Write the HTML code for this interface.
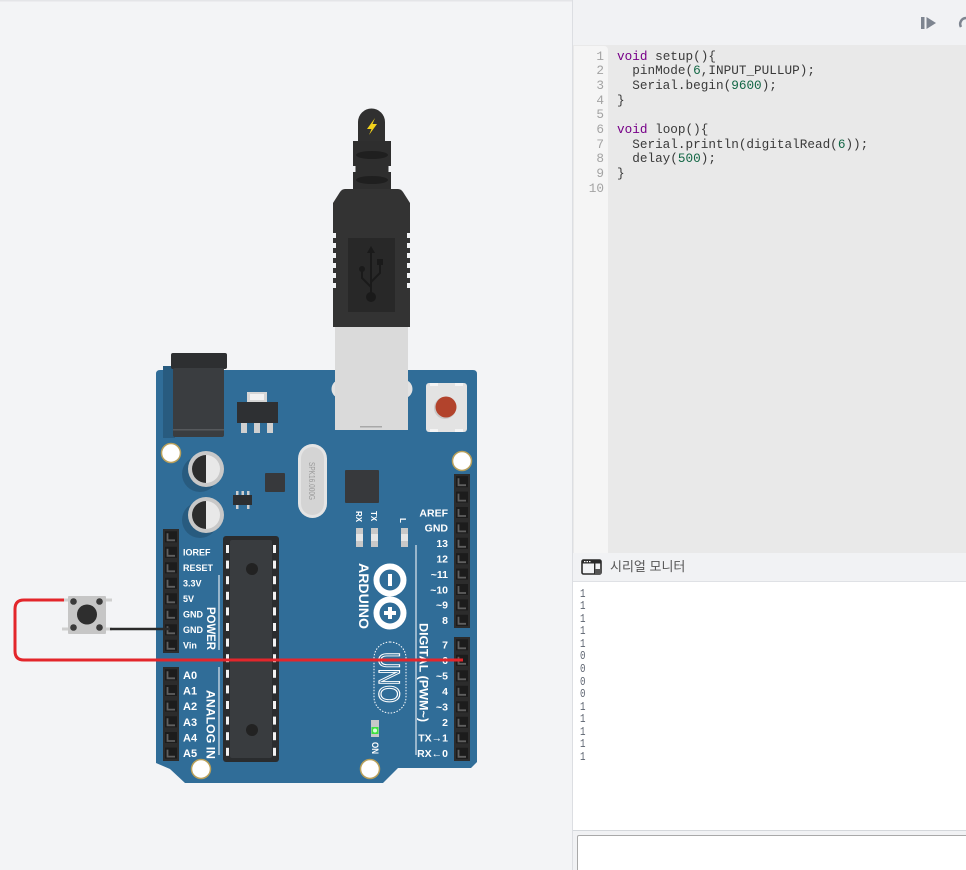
<!DOCTYPE html>
<html><head><meta charset="utf-8"><style>
*{margin:0;padding:0;box-sizing:border-box}
html,body{width:966px;height:870px;overflow:hidden;background:#f3f4f6;font-family:"Liberation Sans",sans-serif}
#left{position:absolute;left:0;top:0}
#rp{position:absolute;left:572px;top:0;width:394px;height:870px;border-left:1px solid #dcdee2;background:#f1f2f4;overflow:hidden}
.code{position:absolute;left:0;top:45px;width:393px;height:508px;background:#e9e9e9}
.gut{position:absolute;left:1px;top:1px;width:34px;height:507px;background:#f5f5f5;border-top-right-radius:4px}
.ln{position:absolute;left:0;top:4.7px;width:31px;text-align:right;font:12.7px/14.67px "Liberation Mono",monospace;color:#a3a3a3}
.src{position:absolute;left:44px;top:4.7px;font:12.7px/14.67px "Liberation Mono",monospace;color:#3a3a3a;white-space:pre}
.k{color:#770088}.n{color:#116644}
.sh{position:absolute;left:0;top:553px;width:393px;height:29px;background:#f1f2f4;border-bottom:1px solid #dfe1e5}
.sh span{position:absolute;left:37px;top:3px;font:13px "Liberation Sans","Noto Sans CJK KR",sans-serif;color:#555}
.out{position:absolute;left:0;top:582px;width:393px;height:248px;background:#fff}
.out div{position:absolute;left:7px;top:6.7px;font:11.5px/12.54px "Liberation Mono",monospace;color:#5d6470;white-space:pre;transform:scaleX(0.8);transform-origin:0 0}
.bot{position:absolute;left:0;top:830px;width:393px;height:40px;border-top:1px solid #d5d8dc;background:#f1f2f4}
.inp{position:absolute;left:4px;top:4px;width:400px;height:40px;border:1px solid #a9a9a9;border-radius:2px;background:#fff}
</style></head><body>
<svg id="left" width="572" height="870" viewBox="0 0 572 870" xmlns="http://www.w3.org/2000/svg">
<defs>
<g id="pin"><rect x="-6" y="-5.5" width="12" height="11" fill="#1c1c1c"/><path d="M-3.5,-3.5 V3.5 H4" stroke="#5f5f5f" stroke-width="1.8" fill="none"/></g>
</defs>
<rect x="0" y="0" width="572" height="1.5" fill="#e4e5e8"/>
<!-- board -->
<path d="M156,374 Q156,370 160,370 L473,370 Q477,370 477,374 L477,762 L471,768 L398,768 L383,783 L185,783 L170,769 L156,763 Z" fill="#306d98"/>
<!-- jack -->
<rect x="163" y="366" width="12" height="72" fill="#285b7f"/>
<rect x="171" y="353" width="56" height="16" rx="2" fill="#2d2f31"/>
<rect x="173" y="368" width="51" height="69" rx="2" fill="#3a3d40"/>
<rect x="173" y="429" width="51" height="1.5" fill="#56595c"/>
<!-- regulator -->
<rect x="247" y="392" width="20" height="11" fill="#d6d6d6"/>
<rect x="250" y="394" width="14" height="6" fill="#f2f2f2"/>
<rect x="237" y="402" width="41" height="21" fill="#2e3033"/>
<rect x="241" y="423" width="6" height="10" fill="#d0d0d0"/>
<rect x="254" y="423" width="6" height="10" fill="#d0d0d0"/>
<rect x="267" y="423" width="6" height="10" fill="#d0d0d0"/>
<!-- USB metal -->
<circle cx="341" cy="389" r="9.5" fill="#e2e2e2"/>
<circle cx="403" cy="389" r="9.5" fill="#e2e2e2"/>
<rect x="335" y="325" width="73" height="105" fill="#dadada"/>
<rect x="360" y="426" width="22" height="1.5" fill="#a8a8a8"/>
<!-- cable -->
<path d="M358,143 V122 A13.5,13.5 0 0 1 385,122 V143 Z" fill="#303030"/>
<polygon points="375,118 367,129 371.5,129 369,135 377,124 372.5,124" fill="#f2d21b"/>
<rect x="353" y="141" width="38" height="50" fill="#2e2e2e"/>
<rect x="353" y="166" width="2.5" height="6" fill="#f3f4f6"/>
<rect x="388.5" y="166" width="2.5" height="6" fill="#f3f4f6"/>
<ellipse cx="372" cy="155" rx="16" ry="4" fill="#1f1f1f"/>
<ellipse cx="372" cy="180" rx="16" ry="4" fill="#1f1f1f"/>
<path d="M345,189 L398,189 Q401,189 403,192 L410,203 L410,327 L333,327 L333,203 L340,192 Q342,189 345,189 Z" fill="#333333"/>
<g fill="#f3f4f6">
<rect x="333" y="233" width="3" height="5"/><rect x="333" y="243" width="3" height="5"/><rect x="333" y="253" width="3" height="5"/><rect x="333" y="263" width="3" height="5"/><rect x="333" y="273" width="3" height="5"/><rect x="333" y="283" width="3" height="5"/>
<rect x="407" y="233" width="3" height="5"/><rect x="407" y="243" width="3" height="5"/><rect x="407" y="253" width="3" height="5"/><rect x="407" y="263" width="3" height="5"/><rect x="407" y="273" width="3" height="5"/><rect x="407" y="283" width="3" height="5"/>
</g>
<rect x="348" y="238" width="47" height="74" fill="#282828"/>
<g stroke="#1a1a1a" stroke-width="2" fill="none">
<path d="M371,252 V297"/><path d="M371,287 L362,278 V271"/><path d="M371,282 L380,273 V265"/>
</g>
<g fill="#1a1a1a"><polygon points="371,246 367,253 375,253"/><circle cx="371" cy="297" r="5"/><circle cx="362" cy="269" r="3"/><rect x="377" y="259" width="6" height="6"/></g>
<!-- reset -->
<rect x="426" y="383" width="41" height="49" rx="3" fill="#e3e3e3"/>
<rect x="430" y="383" width="8" height="3" fill="#f4f4f4"/><rect x="455" y="383" width="8" height="3" fill="#f4f4f4"/>
<rect x="430" y="429" width="8" height="3" fill="#f4f4f4"/><rect x="455" y="429" width="8" height="3" fill="#f4f4f4"/>
<circle cx="445" cy="408" r="11" fill="#c9c9c9"/>
<circle cx="446" cy="407" r="10.5" fill="#b2432c"/>
<!-- mount holes -->
<g fill="#fff" stroke="#b9a05a" stroke-width="1.5">
<circle cx="171" cy="453" r="9.5"/><circle cx="462" cy="461" r="9.5"/><circle cx="201" cy="769" r="9.5"/><circle cx="370" cy="769" r="9.5"/>
</g>
<!-- capacitors -->
<circle cx="200" cy="474" r="18" fill="#285b7f"/>
<circle cx="200" cy="520" r="18" fill="#285b7f"/>
<circle cx="206" cy="469" r="18" fill="#c8c8c8"/><circle cx="206" cy="469" r="14" fill="#e8e8e8"/><path d="M206,455 A14,14 0 0 0 206,483 Z" fill="#2c2c2c"/>
<circle cx="206" cy="515" r="18" fill="#c8c8c8"/><circle cx="206" cy="515" r="14" fill="#e8e8e8"/><path d="M206,501 A14,14 0 0 0 206,529 Z" fill="#2c2c2c"/>
<!-- small chips -->
<rect x="265" y="473" width="20" height="19" rx="1" fill="#37393c"/>
<rect x="345" y="470" width="34" height="33" rx="1" fill="#37393c"/>
<rect x="233" y="495" width="19" height="10" fill="#2d2f31"/>
<g fill="#cfcfcf"><rect x="236" y="491" width="2.5" height="4"/><rect x="241.5" y="491" width="2.5" height="4"/><rect x="247" y="491" width="2.5" height="4"/><rect x="236" y="505" width="2.5" height="4"/><rect x="247" y="505" width="2.5" height="4"/></g>
<!-- crystal -->
<rect x="298" y="444" width="29" height="74" rx="14.5" fill="#e4e4e4"/>
<rect x="301" y="447" width="23" height="68" rx="11.5" fill="#d4d4d4"/>
<text transform="translate(312,462) rotate(90)" x="0" y="3" font-size="8" fill="#9a9a9a" textLength="38" lengthAdjust="spacingAndGlyphs">SPK16.000G</text>
<!-- LEDs -->
<rect x="356" y="528" width="7" height="19" fill="#c8c8c8"/><rect x="356" y="534" width="7" height="7" fill="#e6e6e6"/>
<rect x="371" y="528" width="7" height="19" fill="#c8c8c8"/><rect x="371" y="534" width="7" height="7" fill="#e6e6e6"/>
<rect x="401" y="528" width="7" height="19" fill="#c8c8c8"/><rect x="401" y="534" width="7" height="7" fill="#e6e6e6"/>
<g fill="#fff" font-weight="bold" font-size="8">
<text transform="translate(359,511) rotate(90)" x="0" y="3">RX</text>
<text transform="translate(374,511) rotate(90)" x="0" y="3">TX</text>
<text transform="translate(403,518) rotate(90)" x="0" y="3">L</text>
</g>
<rect x="371" y="720" width="8" height="17" fill="#c8c8c8"/>
<rect x="371.5" y="727" width="7" height="7" fill="#3fe03f"/><circle cx="375" cy="730.5" r="2" fill="#d9ffd9"/>
<text transform="translate(375,742) rotate(90)" x="0" y="3.2" font-size="9" font-weight="bold" fill="#fff" textLength="12" lengthAdjust="spacingAndGlyphs">ON</text>
<!-- main chip -->
<rect x="223" y="536" width="56" height="226" rx="3" fill="#2a2c2e"/>
<rect x="230" y="540" width="42" height="218" rx="2" fill="#393c3f"/>
<g fill="#f2f2f2">
<rect x="226" y="545" width="3" height="8"/><rect x="226" y="560.6" width="3" height="8"/><rect x="226" y="576.2" width="3" height="8"/><rect x="226" y="591.8" width="3" height="8"/><rect x="226" y="607.4" width="3" height="8"/><rect x="226" y="623" width="3" height="8"/><rect x="226" y="638.6" width="3" height="8"/><rect x="226" y="654.2" width="3" height="8"/><rect x="226" y="669.8" width="3" height="8"/><rect x="226" y="685.4" width="3" height="8"/><rect x="226" y="701" width="3" height="8"/><rect x="226" y="716.6" width="3" height="8"/><rect x="226" y="732.2" width="3" height="8"/><rect x="226" y="747.8" width="3" height="8"/>
<rect x="273" y="545" width="3" height="8"/><rect x="273" y="560.6" width="3" height="8"/><rect x="273" y="576.2" width="3" height="8"/><rect x="273" y="591.8" width="3" height="8"/><rect x="273" y="607.4" width="3" height="8"/><rect x="273" y="623" width="3" height="8"/><rect x="273" y="638.6" width="3" height="8"/><rect x="273" y="654.2" width="3" height="8"/><rect x="273" y="669.8" width="3" height="8"/><rect x="273" y="685.4" width="3" height="8"/><rect x="273" y="701" width="3" height="8"/><rect x="273" y="716.6" width="3" height="8"/><rect x="273" y="732.2" width="3" height="8"/><rect x="273" y="747.8" width="3" height="8"/>
</g>
<circle cx="252" cy="569" r="6" fill="#222"/><circle cx="252" cy="730" r="6" fill="#222"/>
<!-- logo -->
<circle cx="390" cy="580" r="13.5" fill="none" stroke="#fff" stroke-width="6"/>
<circle cx="390" cy="613" r="13.5" fill="none" stroke="#fff" stroke-width="6"/>
<rect x="388" y="574" width="4" height="12" fill="#fff"/>
<rect x="388" y="607" width="4" height="12" fill="#fff"/><rect x="384" y="611" width="12" height="4" fill="#fff"/>
<text transform="translate(364,563) rotate(90)" x="0" y="5" font-size="14" font-weight="bold" fill="#fff" textLength="66" lengthAdjust="spacingAndGlyphs">ARDUINO</text>
<rect x="374" y="642" width="32" height="71" rx="16" fill="none" stroke="#fff" stroke-width="1" stroke-dasharray="1.5,1.5"/>
<text transform="translate(390,652) rotate(90)" x="0" y="11" font-size="30" fill="none" stroke="#fff" stroke-width="1.2" textLength="51" lengthAdjust="spacingAndGlyphs">UNO</text>
<!-- headers -->
<rect x="163" y="529" width="16" height="124" fill="#2c2c2c"/>
<rect x="163" y="667" width="16" height="94" fill="#2c2c2c"/>
<rect x="454" y="474" width="16" height="154" fill="#2c2c2c"/>
<rect x="454" y="637" width="16" height="124" fill="#2c2c2c"/>
<use href="#pin" x="171" y="536.8"/><use href="#pin" x="171" y="552.3"/><use href="#pin" x="171" y="567.8"/><use href="#pin" x="171" y="583.3"/><use href="#pin" x="171" y="598.8"/><use href="#pin" x="171" y="614.3"/><use href="#pin" x="171" y="629.8"/><use href="#pin" x="171" y="645.3"/>
<use href="#pin" x="171" y="674.8"/><use href="#pin" x="171" y="690.5"/><use href="#pin" x="171" y="706.1"/><use href="#pin" x="171" y="721.8"/><use href="#pin" x="171" y="737.5"/><use href="#pin" x="171" y="753.1"/>
<use href="#pin" x="462" y="481.7"/><use href="#pin" x="462" y="497.1"/><use href="#pin" x="462" y="512.5"/><use href="#pin" x="462" y="527.9"/><use href="#pin" x="462" y="543.3"/><use href="#pin" x="462" y="558.7"/><use href="#pin" x="462" y="574.1"/><use href="#pin" x="462" y="589.5"/><use href="#pin" x="462" y="604.9"/><use href="#pin" x="462" y="620.3"/>
<use href="#pin" x="462" y="644.8"/><use href="#pin" x="462" y="660.3"/><use href="#pin" x="462" y="675.8"/><use href="#pin" x="462" y="691.3"/><use href="#pin" x="462" y="706.8"/><use href="#pin" x="462" y="722.3"/><use href="#pin" x="462" y="737.8"/><use href="#pin" x="462" y="753.3"/>
<!-- left labels -->
<g fill="#fff" font-size="9" font-weight="bold">
<text x="183" y="555.6">IOREF</text><text x="183" y="571.1">RESET</text><text x="183" y="586.6">3.3V</text><text x="183" y="602.1">5V</text><text x="183" y="617.6">GND</text><text x="183" y="633.1">GND</text><text x="183" y="648.6">Vin</text>
</g>
<g fill="#fff" font-size="11" font-weight="bold">
<text x="183" y="678.8">A0</text><text x="183" y="694.5">A1</text><text x="183" y="710.1">A2</text><text x="183" y="725.8">A3</text><text x="183" y="741.5">A4</text><text x="183" y="757.1">A5</text>
</g>
<rect x="218.5" y="575" width="1" height="75" fill="#fff"/>
<rect x="218.5" y="667" width="1" height="88" fill="#fff"/>
<text transform="translate(211,607) rotate(90)" x="0" y="4.2" font-size="11.5" font-weight="bold" fill="#fff" textLength="43" lengthAdjust="spacingAndGlyphs">POWER</text>
<text transform="translate(211,690) rotate(90)" x="0" y="4.3" font-size="12" font-weight="bold" fill="#fff" textLength="69" lengthAdjust="spacingAndGlyphs">ANALOG IN</text>
<!-- right labels -->
<g fill="#fff" font-size="10.5" font-weight="bold" text-anchor="end">
<text x="448" y="516.3">AREF</text><text x="448" y="531.7">GND</text><text x="448" y="547.1">13</text><text x="448" y="562.5">12</text><text x="448" y="577.9">~11</text><text x="448" y="593.3">~10</text><text x="448" y="608.7">~9</text><text x="448" y="624.1">8</text>
<text x="448" y="648.6">7</text><text x="448" y="664.1">6</text><text x="448" y="679.6">~5</text><text x="448" y="695.1">4</text><text x="448" y="710.6">~3</text><text x="448" y="726.1">2</text><text x="448" y="741.6">TX→1</text><text x="448" y="757.1">RX←0</text>
</g>
<rect x="415.5" y="545" width="1" height="210" fill="#fff"/>
<text transform="translate(424,623) rotate(90)" x="0" y="4.3" font-size="12" font-weight="bold" fill="#fff" textLength="99" lengthAdjust="spacingAndGlyphs">DIGITAL (PWM~)</text>
<!-- button -->
<rect x="62" y="598.5" width="7" height="3" fill="#cfcfcf"/><rect x="62" y="627.5" width="7" height="3" fill="#cfcfcf"/>
<rect x="105" y="598.5" width="7" height="3" fill="#cfcfcf"/><rect x="105" y="627.5" width="7" height="3" fill="#cfcfcf"/>
<rect x="68" y="596" width="38" height="38" rx="1" fill="#c6c6c6"/>
<g fill="#3a3a3a"><circle cx="73.5" cy="601.5" r="3.3"/><circle cx="99.5" cy="601.5" r="3.3"/><circle cx="73.5" cy="627.5" r="3.3"/><circle cx="99.5" cy="627.5" r="3.3"/></g>
<circle cx="87" cy="614.5" r="10" fill="#2e2e2e"/>
<!-- wires -->
<path d="M110,629 H170" stroke="#2a2a2a" stroke-width="2.5" fill="none"/>
<path d="M64,600 H24 Q15,600 15,609 V651 Q15,660 24,660 H463" stroke="#e3262b" stroke-width="3" fill="none"/>
</svg>

<div id="rp">
<svg style="position:absolute;left:0;top:0" width="393" height="45">
<rect x="348" y="17" width="3.5" height="12" fill="#7e8590"/>
<polygon points="353.5,17 363,23 353.5,29" fill="#7e8590"/>
<path d="M388,27 A6,6 0 0 1 393,18" stroke="#7e8590" stroke-width="2.5" fill="none"/>
</svg>
<div class="code">
<div class="gut"></div>
<div class="ln">1<br>2<br>3<br>4<br>5<br>6<br>7<br>8<br>9<br>10</div>
<div class="src"><span class="k">void</span> setup(){
  pinMode(<span class="n">6</span>,INPUT_PULLUP);
  Serial.begin(<span class="n">9600</span>);
}

<span class="k">void</span> loop(){
  Serial.println(digitalRead(<span class="n">6</span>));
  delay(<span class="n">500</span>);
}
</div>
</div>
<div class="sh">
<svg style="position:absolute;left:8px;top:6px" width="22" height="17">
<rect x="1" y="1" width="19" height="14" rx="1.5" fill="none" stroke="#2a2a2a" stroke-width="1.6"/>
<rect x="1" y="1" width="19" height="3.5" fill="#2a2a2a"/>
<rect x="13" y="4.5" width="1.4" height="10.5" fill="#2a2a2a"/>
<rect x="14" y="10" width="6" height="5" fill="#555"/>
<rect x="3" y="2" width="1.5" height="1.2" fill="#fff"/><rect x="5.5" y="2" width="1.5" height="1.2" fill="#fff"/><rect x="8" y="2" width="1.5" height="1.2" fill="#fff"/>
</svg>
<span>시리얼 모니터</span>
</div>
<div class="out"><div>1
1
1
1
1
0
0
0
0
1
1
1
1
1</div></div>
<div class="bot"><div class="inp"></div></div>
</div>
</body></html>
